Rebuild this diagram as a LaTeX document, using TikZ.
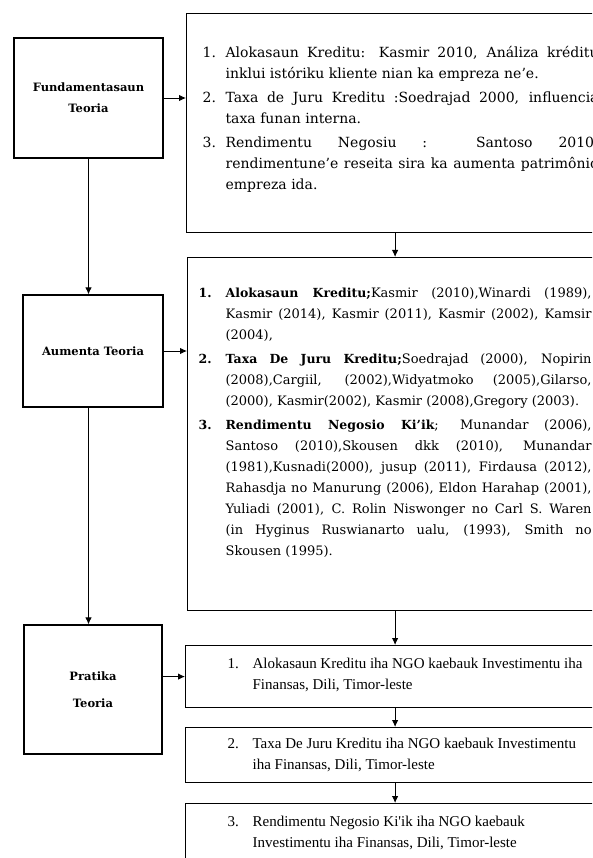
\documentclass[tikz,border=0pt]{standalone}
\usepackage{fontspec}
\setmainfont{DejaVu Serif}
\newfontfamily\timesfont{Liberation Serif}
\usepackage{enumitem}
\usetikzlibrary{shapes.geometric, arrows.meta, positioning}

\newcommand{\boxbody}[3]{\parbox[c][#1][t]{#2}{#3}}
\setlist[enumerate]{align=left, topsep=0pt, partopsep=0pt, parsep=0pt, itemsep=3pt}

\begin{document}
\begin{tikzpicture}[x=1pt, y=-1pt]
        \tikzstyle{titlebox} = [rectangle, draw, line width=1.2pt, align=center,
            font=\bfseries\fontsize{11.5}{21}\selectfont]
        \tikzstyle{litbox} = [rectangle, draw, line width=1.2pt, anchor=north west, inner ysep=0pt]
        \tikzstyle{line} = [draw, -{Latex[length=7pt, width=6.5pt]}, line width=0.9pt]

        \useasboundingbox (0,0) rectangle (592,858);
        \clip (0,0) rectangle (592,858);

        % left column
        \node [titlebox, minimum width=149pt, minimum height=120pt] (fund) at (88.5,98) {Fundamentasaun\\Teoria};
        \node [titlebox, minimum width=140pt, minimum height=112pt] (aum) at (93,351) {Aumenta Teoria};
        \node [titlebox, minimum width=138pt, minimum height=129pt, font=\bfseries\fontsize{11.5}{27}\selectfont] (prat) at (93,689.5) {Pratika\\Teoria};

        % right column
        \node [litbox, inner xsep=16pt] (lit1) at (186,13) {\boxbody{219pt}{396pt}{\fontsize{14}{21}\selectfont\vspace*{33pt}
            \begin{enumerate}[label=\arabic*., leftmargin=23pt, labelwidth=15pt, labelsep=8pt]
                \item Alokasaun Kreditu: Kasmir 2010, Análiza kréditu \linebreak inklui istóriku kliente nian ka empreza ne'e.
                \item Taxa de Juru Kreditu :Soedrajad 2000, influencia \linebreak taxa funan interna.
                \item Rendimentu Negosiu : Santoso 2010, \linebreak rendimentune'e reseita sira ka aumenta patrimônio \linebreak empreza ida.
            \end{enumerate}}};
        \node [litbox, inner xsep=11pt] (lit2) at (187,257) {\boxbody{353pt}{393pt}{\fontsize{13}{21}\selectfont\vspace*{30pt}
            \begin{enumerate}[label=\textbf{\fontsize{12.5}{21}\selectfont\arabic*.}, leftmargin=27pt, labelwidth=17pt, labelsep=10pt]
                \item {\bfseries\fontsize{12.5}{21}\selectfont Alokasaun Kreditu;}Kasmir (2010),Winardi (1989), \linebreak Kasmir (2014), Kasmir (2011), Kasmir (2002), Kamsir \linebreak (2004),
                \item {\bfseries\fontsize{12.5}{21}\selectfont Taxa De Juru Kreditu;}Soedrajad (2000), Nopirin \linebreak (2008),Cargiil, (2002),Widyatmoko (2005),Gilarso, \linebreak (2000), Kasmir(2002), Kasmir (2008),Gregory (2003).
                \item {\bfseries\fontsize{12.5}{21}\selectfont Rendimentu Negosio Ki'ik}; Munandar (2006), \linebreak Santoso (2010),Skousen dkk (2010), Munandar \linebreak (1981),Kusnadi(2000), jusup (2011), Firdausa (2012), \linebreak Rahasdja no Manurung (2006), Eldon Harahap (2001), \linebreak Yuliadi (2001), C. Rolin Niswonger no Carl S. Waren \linebreak (in Hyginus Ruswianarto ualu, (1993), Smith no \linebreak Skousen (1995).
            \end{enumerate}}};

        \node [litbox, inner xsep=42pt] (prak1) at (185,645) {\boxbody{62pt}{370pt}{\timesfont\fontsize{15}{21}\selectfont\raggedright\vspace*{12pt}
            \begin{enumerate}[label=\arabic*., leftmargin=25pt, labelwidth=12pt, labelsep=13pt]
                \item Alokasaun Kreditu iha NGO kaebauk Investimentu iha\\ Finansas, Dili, Timor-leste
            \end{enumerate}}};
        \node [litbox, inner xsep=42pt] (prak2) at (185,727) {\boxbody{55pt}{370pt}{\timesfont\fontsize{15}{21}\selectfont\raggedright\vspace*{10pt}
            \begin{enumerate}[label=\arabic*., leftmargin=25pt, labelwidth=12pt, labelsep=13pt, start=2]
                \item Taxa De Juru Kreditu iha NGO kaebauk Investimentu\\ iha Finansas, Dili, Timor-leste
            \end{enumerate}}};
        \node [litbox, inner xsep=42pt] (prak3) at (185,803) {\boxbody{70pt}{370pt}{\timesfont\fontsize{15}{21}\selectfont\raggedright\vspace*{12pt}
            \begin{enumerate}[label=\arabic*., leftmargin=25pt, labelwidth=12pt, labelsep=13pt, start=3]
                \item Rendimentu Negosio Ki'ik iha NGO kaebauk\\ Investimentu iha Finansas, Dili, Timor-leste
            \end{enumerate}}};

        % connectors
        \path [line] (fund.east) -- (fund.east -| lit1.west);
        \path [line] (aum.east) -- (aum.east -| lit2.west);
        \path [line] (prak1.west -| prat.east) -- (prak1.west);
        \path [line] (fund.south) -- (fund.south |- aum.north);
        \path [line] (aum.south -| fund.south) -- (fund.south |- prat.north);
        \path [line] (lit1.south -| lit2.north) -- (lit2.north);
        \path [line] (lit2.south) -- (lit2.south |- prak1.north);
        \path [line] (prak1.south -| lit2.south) -- (lit2.south |- prak2.north);
        \path [line] (prak2.south -| lit2.south) -- (lit2.south |- prak3.north);
\end{tikzpicture}
\end{document}
